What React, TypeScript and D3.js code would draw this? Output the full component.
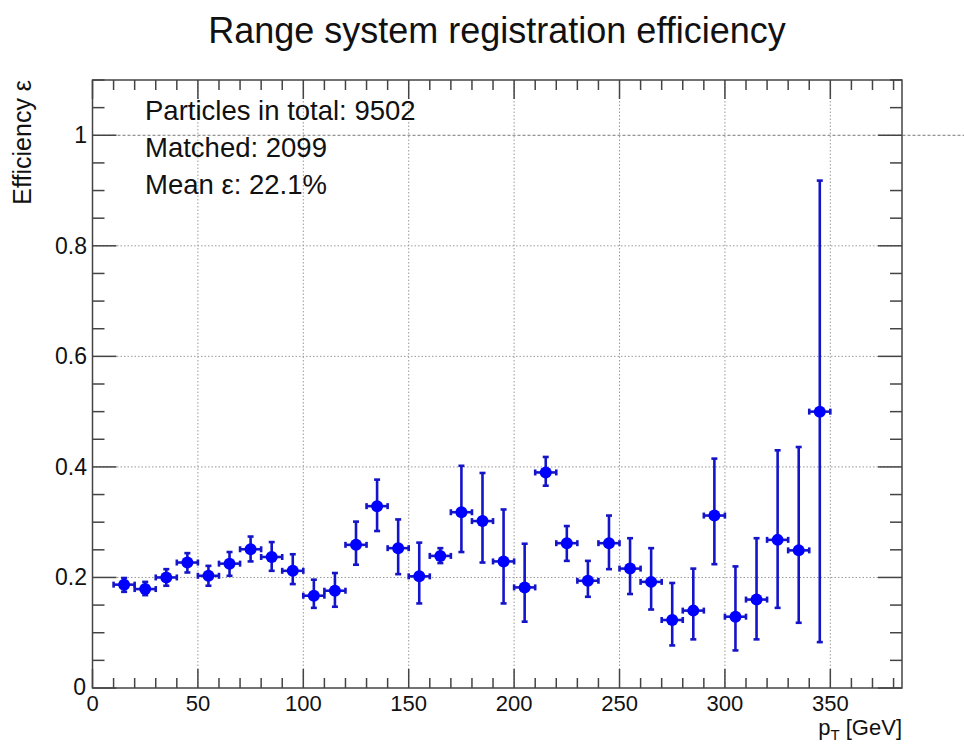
import React from "react";
import * as d3 from "d3";

const ptCenters = [15, 25, 35, 45, 55, 65, 75, 85, 95, 105, 115, 125, 135, 145, 155, 165, 175, 185, 195, 205, 215, 225, 235, 245, 255, 265, 275, 285, 295, 305, 315, 325, 335, 345];
const efficiency = [0.187, 0.179, 0.200, 0.227, 0.203, 0.225, 0.251, 0.237, 0.212, 0.167, 0.176, 0.259, 0.329, 0.253, 0.202, 0.239, 0.318, 0.302, 0.229, 0.182, 0.390, 0.262, 0.194, 0.262, 0.216, 0.192, 0.123, 0.140, 0.312, 0.129, 0.160, 0.268, 0.249, 0.500];
const lowerBound = [0.174, 0.168, 0.185, 0.209, 0.185, 0.203, 0.229, 0.212, 0.188, 0.145, 0.147, 0.223, 0.284, 0.206, 0.153, 0.226, 0.246, 0.227, 0.153, 0.120, 0.366, 0.230, 0.165, 0.215, 0.170, 0.142, 0.077, 0.088, 0.224, 0.068, 0.088, 0.145, 0.118, 0.083];
const upperBound = [0.199, 0.192, 0.215, 0.244, 0.221, 0.246, 0.274, 0.264, 0.242, 0.196, 0.208, 0.301, 0.377, 0.305, 0.263, 0.253, 0.402, 0.389, 0.323, 0.261, 0.418, 0.293, 0.230, 0.312, 0.271, 0.253, 0.190, 0.216, 0.415, 0.220, 0.271, 0.430, 0.436, 0.918];
const binHalfWidth = 5;
const xMajorTicks = [0, 50, 100, 150, 200, 250, 300, 350];
const yMajorTicks = [0, 0.2, 0.4, 0.6, 0.8, 1];
const infoLines = ["Particles in total: 9502", "Matched: 2099", "Mean \u03b5: 22.1%"];
const titleText = "Range system registration efficiency";

const W = 964, H = 744;
const L = 92.5, R = 902, T = 80, B = 688;
const FONT = "'Liberation Sans', Arial, Helvetica, sans-serif";
const AX = "#444";

export default function App() {
  const x = d3.scaleLinear().domain([0, 384]).range([L, R]);
  const y = d3.scaleLinear().domain([0, 1.1]).range([B, T]);
  const xMinor = x.ticks(38).filter((t) => !xMajorTicks.includes(t));
  const yMinor = y.ticks(22).filter((t) => !yMajorTicks.some((m) => Math.abs(m - t) < 1e-6));
  const fmt = (v: number) => (v === 0 ? "0" : v === 1 ? "1" : d3.format(".1f")(v));
  const lineColor = "#1414c8";
  const cap = 3;

  return (
    <svg width={W} height={H} style={{ position: "absolute", left: 0, top: 0, background: "#fff" }} fontFamily={FONT}>
      <rect x={0} y={0} width={W} height={H} fill="#fff" />
      {/* grid */}
      {xMajorTicks.filter((t) => t > 0).map((t) => (
        <line key={"gx" + t} x1={x(t)} x2={x(t)} y1={T} y2={B} stroke="#999" strokeWidth={1} strokeDasharray="1.5,2" />
      ))}
      {yMajorTicks.filter((t) => t > 0).map((t) => (
        <line key={"gy" + t} x1={L} x2={t === 1 ? W : R} y1={y(t)} y2={y(t)} stroke={t === 1 ? "#777" : "#999"} strokeWidth={1} strokeDasharray={t === 1 ? "3,2" : "1.5,2"} />
      ))}
      {/* frame */}
      <rect x={L} y={T} width={R - L} height={B - T} fill="none" stroke={AX} strokeWidth={1.5} />
      {/* x ticks bottom & top */}
      {xMajorTicks.map((t) => (
        <g key={"xt" + t}>
          <line x1={x(t)} x2={x(t)} y1={B} y2={B - 19} stroke={AX} strokeWidth={1.5} />
          <line x1={x(t)} x2={x(t)} y1={T} y2={T + 19} stroke={AX} strokeWidth={1.5} />
          <text x={x(t)} y={711} fontSize={22} textAnchor="middle" fill="#111">{t}</text>
        </g>
      ))}
      {xMinor.map((t) => (
        <g key={"xm" + t}>
          <line x1={x(t)} x2={x(t)} y1={B} y2={B - 10} stroke={AX} strokeWidth={1.5} />
          <line x1={x(t)} x2={x(t)} y1={T} y2={T + 10} stroke={AX} strokeWidth={1.5} />
        </g>
      ))}
      {/* y ticks left & right */}
      {yMajorTicks.map((t) => (
        <g key={"yt" + t}>
          <line x1={L} x2={L + 24} y1={y(t)} y2={y(t)} stroke={AX} strokeWidth={1.5} />
          <line x1={R} x2={R - 24} y1={y(t)} y2={y(t)} stroke={AX} strokeWidth={1.5} />
          <text x={t === 0 ? 86 : 87} y={y(t) + (t === 0 ? 7 : 8)} fontSize={23} textAnchor="end" fill="#111">{fmt(t)}</text>
        </g>
      ))}
      {yMinor.map((t) => (
        <g key={"ym" + t}>
          <line x1={L} x2={L + 12} y1={y(t)} y2={y(t)} stroke={AX} strokeWidth={1.5} />
          <line x1={R} x2={R - 12} y1={y(t)} y2={y(t)} stroke={AX} strokeWidth={1.5} />
        </g>
      ))}
      {/* data */}
      {ptCenters.map((p, i) => {
        const cx = x(p), cy = y(efficiency[i]);
        const x0 = x(p - binHalfWidth), x1 = x(p + binHalfWidth);
        const yl = y(lowerBound[i]), yh = y(upperBound[i]);
        return (
          <g key={"pt" + p} stroke={lineColor} strokeWidth={2.6}>
            <line x1={cx} x2={cx} y1={yl} y2={yh} />
            <line x1={cx - cap} x2={cx + cap} y1={yl} y2={yl} />
            <line x1={cx - cap} x2={cx + cap} y1={yh} y2={yh} />
            <line x1={x0} x2={x1} y1={cy} y2={cy} />
            <line x1={x0} x2={x0} y1={cy - cap} y2={cy + cap} />
            <line x1={x1} x2={x1} y1={cy - cap} y2={cy + cap} />
            <circle cx={cx} cy={cy} r={6} fill="#0000ff" stroke="none" />
          </g>
        );
      })}
      {/* info text */}
      {infoLines.map((s, i) => (
        <text key={"info" + i} x={145} y={120 + i * 37} fontSize={27.5} fill="#111">{s}</text>
      ))}
      {/* title */}
      <text x={497} y={43} fontSize={36} textAnchor="middle" fill="#111">{titleText}</text>
      {/* axis titles */}
      <text transform={`translate(31, ${T}) rotate(-90)`} fontSize={25} textAnchor="end" fill="#111">Efficiency &#949;</text>
      <text x={R} y={735} fontSize={22} textAnchor="end" fill="#111">
        p<tspan fontSize={15} dy={5}>T</tspan><tspan dy={-5}> [GeV]</tspan>
      </text>
    </svg>
  );
}
